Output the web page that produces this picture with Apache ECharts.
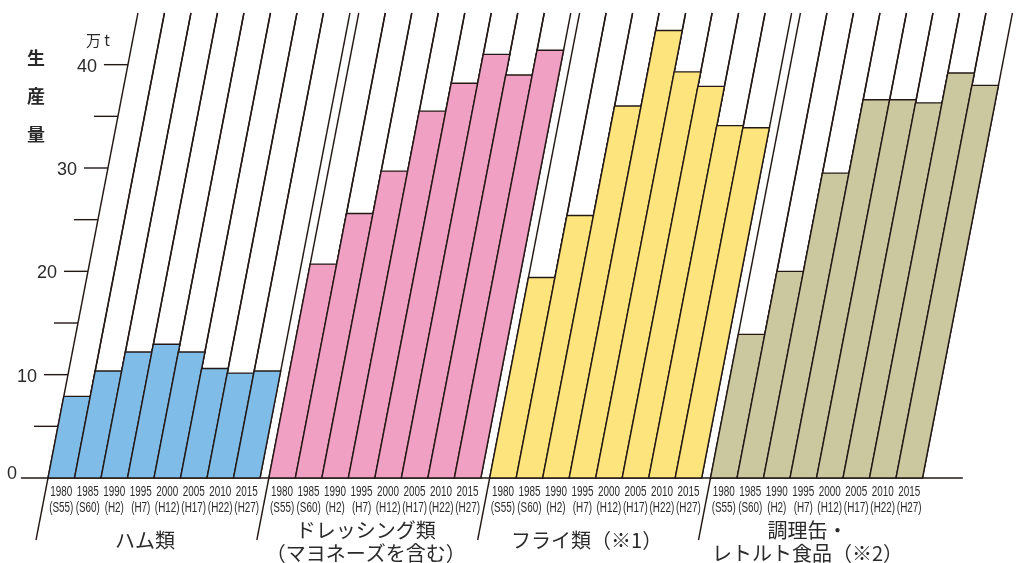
<!DOCTYPE html>
<html><head><meta charset="utf-8">
<script src="https://cdn.jsdelivr.net/npm/echarts@6/dist/echarts.min.js"></script>
<style>html,body{margin:0;padding:0;background:#fff}#c{width:1017px;height:563px}</style>
</head><body><div id="c"></div>
<script>
// ---- data ----
const years = ['1980','1985','1990','1995','2000','2005','2010','2015'];
const eras = ['(S55)','(S60)','(H2)','(H7)','(H12)','(H17)','(H22)','(H27)'];
const groupNames = [['ハム類'], ['ドレッシング類','（マヨネーズを含む）'], ['フライ類（※1）'], ['調理缶・','レトルト食品（※2）']];
const ham      = [7.9, 10.35, 12.2, 12.95, 12.2, 10.6, 10.15, 10.35];
const dressing = [20.7, 25.6, 29.7, 35.5, 38.2, 41.0, 39.0, 41.4];
const fry      = [19.4, 25.4, 36.0, 43.3, 39.3, 37.9, 34.1, 33.9];
const retort   = [13.9, 20.0, 29.5, 36.6, 36.6, 36.3, 39.2, 38.0];
const yTicks  = [5, 10, 15, 20, 25, 30, 35, 40];
const yLabels = [0, 10, 20, 30, 40];
const yUnit = '万 t';
const yTitle = ['生', '産', '量'];

// ---- styles ----
const groups = [ham, dressing, fry, retort];
const colors = ['#7fbde8', '#f0a0c3', '#fee47d', '#cbc8a0'];
const INK = '#231815';
const TXT = '#2a2a2a';
const SLANT = 0.1934;       // horizontal px per vertical px
const GROUP_STEP = 8 + 1/3; // bar units between group starts
const TOP = 45;
const NUM_FONT = '"Liberation Sans", Arial, sans-serif';
const JP_FONT = '"Noto Sans CJK JP", sans-serif';

const barData = [];
groups.forEach((arr, g) => arr.forEach((v, i) => barData.push([g * GROUP_STEP + i, v, g, i])));
const groupData = groupNames.map((n, g) => [g * GROUP_STEP + 4, 0, g]);
const tickData = yTicks.map(v => [0, v]);
const labelData = yLabels.map(v => [0, v]);

function pt(api, x, v) {
  const p = api.coord([x, v]);
  const b = api.coord([x, 0]);
  return [p[0] + (b[1] - p[1]) * SLANT, p[1]];
}
function ptPix(api, x, dyPix) { // point below/above baseline by pixel offset
  const b = api.coord([x, 0]);
  return [b[0] - dyPix * SLANT, b[1] + dyPix];
}

const chart = echarts.init(document.getElementById('c'));
chart.setOption({
  animation: false,
  grid: { left: 21.5, right: 54.75, top: 13, bottom: 85, containLabel: false, outerBoundsMode: 'none' },
  xAxis: { type: 'value', min: -1, max: 34.5,
    axisLine: { show: true, onZero: false, lineStyle: { color: INK, width: 1.5 } },
    axisTick: { show: false }, axisLabel: { show: false }, splitLine: { show: false } },
  yAxis: { type: 'value', min: 0, max: TOP, show: false, splitLine: { show: false } },
  graphic: [
    { type: 'text', left: 86, top: 33, style: { text: yUnit, fontSize: 15, fontFamily: JP_FONT, fill: TXT } },
    ...yTitle.map((t, k) => ({ type: 'text', x: 36, y: 58 + k * 38,
      style: { text: t, fontSize: 18, fontWeight: 'bold', fontFamily: JP_FONT, fill: TXT, align: 'center', verticalAlign: 'middle' } }))
  ],
  series: [
    { // white columns (slanted edges up to top)
      type: 'custom', clip: false, z: 1, data: barData, encode: { x: 0, y: 1 },
      renderItem(params, api) {
        const x0 = api.value(0);
        const a = pt(api, x0, 0), b = pt(api, x0, TOP), c = pt(api, x0 + 1, 0), d = pt(api, x0 + 1, TOP);
        return { type: 'group', children: [
          { type: 'line', shape: { x1: a[0], y1: a[1], x2: b[0], y2: b[1] }, style: { stroke: INK, lineWidth: 1.4 } },
          { type: 'line', shape: { x1: c[0], y1: c[1], x2: d[0], y2: d[1] }, style: { stroke: INK, lineWidth: 1.4 } }
        ] };
      }
    },
    { // filled bars
      type: 'custom', clip: false, z: 2, data: barData, encode: { x: 0, y: 1 },
      renderItem(params, api) {
        const x0 = api.value(0), v = api.value(1), g = api.value(2);
        const pts = [pt(api, x0, 0), pt(api, x0 + 1, 0), pt(api, x0 + 1, v), pt(api, x0, v)];
        return { type: 'polygon', shape: { points: pts },
          style: { fill: colors[g], stroke: INK, lineWidth: 1.4, lineJoin: 'miter' } };
      }
    },
    { // year labels and group divider lines
      type: 'custom', clip: false, z: 3, data: barData, encode: { x: 0, y: 1 },
      renderItem(params, api) {
        const x0 = api.value(0), i = api.value(3);
        const b0 = api.coord([x0, 0]), b1 = api.coord([x0 + 1, 0]);
        const cx = (b0[0] + b1[0]) / 2;
        const children = [
          { type: 'text', x: cx, y: b0[1] + 14, scaleX: 0.66,
            style: { x: 0, y: 0, text: years[i], fontSize: 15, fontFamily: NUM_FONT, fill: TXT, align: 'center', verticalAlign: 'middle' } },
          { type: 'text', x: cx, y: b0[1] + 29.5, scaleX: 0.66,
            style: { x: 0, y: 0, text: eras[i], fontSize: 15, fontFamily: NUM_FONT, fill: TXT, align: 'center', verticalAlign: 'middle' } }
        ];
        if (i === 0) {
          const e = ptPix(api, x0, 62);
          children.push({ type: 'line', shape: { x1: b0[0], y1: b0[1], x2: e[0], y2: e[1] }, style: { stroke: INK, lineWidth: 1.4 } });
        }
        return { type: 'group', children };
      }
    },
    { // group names
      type: 'custom', clip: false, z: 3, data: groupData, encode: { x: 0, y: 1 },
      renderItem(params, api) {
        const g = api.value(2);
        const b = api.coord([api.value(0), 0]);
        const lines = groupNames[g];
        const ys = lines.length === 1 ? [62] : [52, 75];
        return { type: 'group', children: lines.map((t, k) => ({
          type: 'text', x: b[0] - 9, y: b[1] + ys[k],
          style: { x: 0, y: 0, text: t, fontSize: 20, fontFamily: JP_FONT, fill: TXT, align: 'center', verticalAlign: 'middle' } })) };
      }
    },
    { // y ticks
      type: 'custom', clip: false, z: 3, data: tickData, encode: { x: 0, y: 1 },
      renderItem(params, api) {
        const e = pt(api, api.value(0), api.value(1));
        return { type: 'line', shape: { x1: e[0] - 24, y1: e[1], x2: e[0], y2: e[1] }, style: { stroke: INK, lineWidth: 1.4 } };
      }
    },
    { // y labels
      type: 'custom', clip: false, z: 3, data: labelData, encode: { x: 0, y: 1 },
      renderItem(params, api) {
        const v = api.value(1);
        const e = pt(api, api.value(0), v);
        return { type: 'text', x: e[0] - 31, y: e[1] + (v === 0 ? -4 : 2),
          style: { x: 0, y: 0, text: String(v), fontSize: 18, fontFamily: NUM_FONT, fill: TXT, align: 'right', verticalAlign: 'middle' } };
      }
    }
  ]
});
</script></body></html>
